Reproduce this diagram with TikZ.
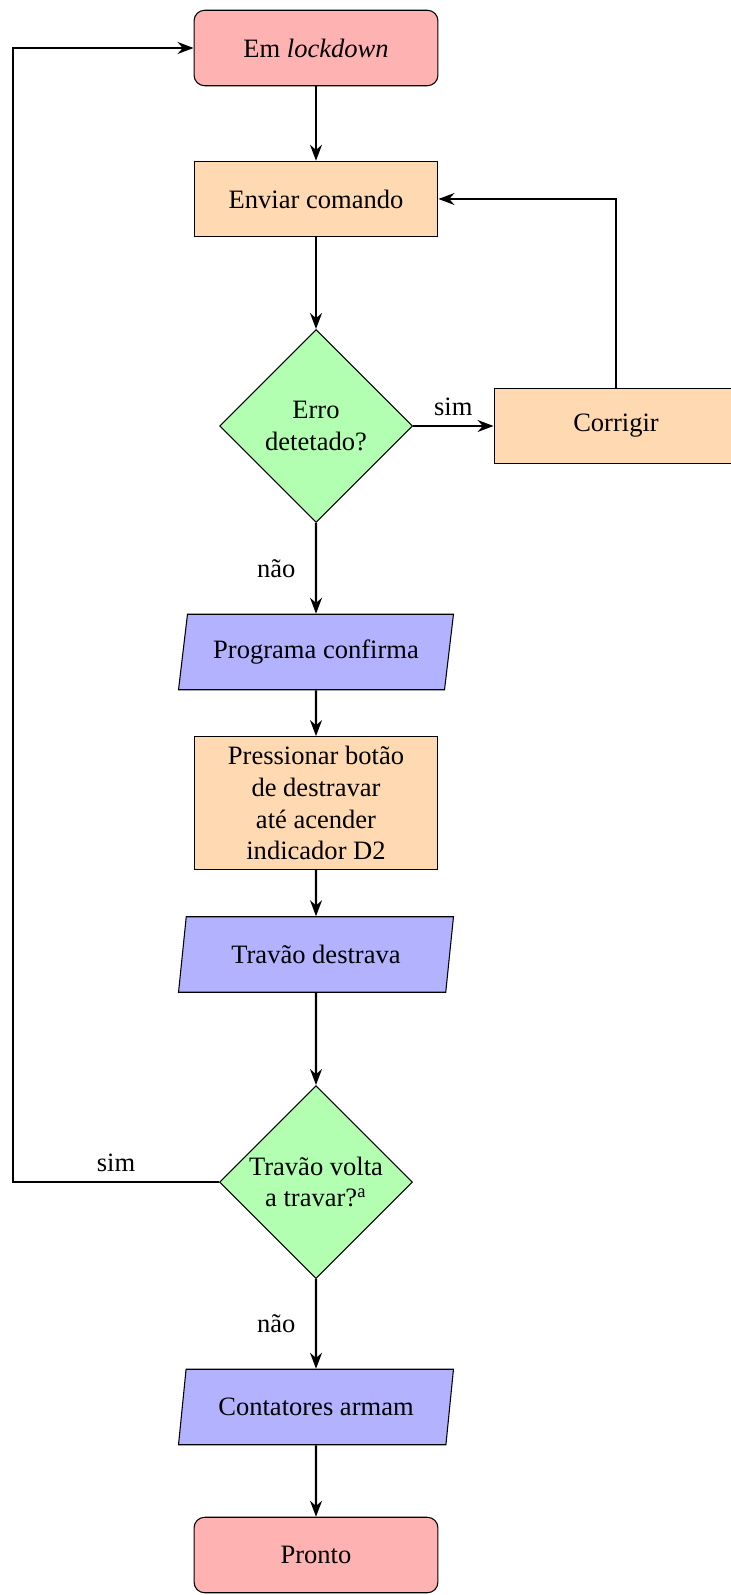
\documentclass[tikz,border=0pt]{standalone}
\usepackage{fontspec}
\setmainfont{Liberation Serif}
\usetikzlibrary{shapes.geometric,arrows.meta}
\tikzset{
  base/.style={draw, line width=0.4pt, align=center, font=\normalsize},
  term/.style={base, rounded corners=4pt, fill=red!30, minimum width=91.9pt, minimum height=28.45pt},
  proc/.style={base, rectangle, fill=orange!30, minimum width=91.9pt, minimum height=28.45pt},
  io/.style={base, trapezium, trapezium left angle=78, trapezium right angle=102, trapezium stretches body, fill=blue!30, minimum width=103.6pt, minimum height=28.45pt},
  dec/.style={base, diamond, aspect=1, inner sep=0pt, fill=green!30, minimum width=72.7pt, minimum height=72.7pt},
  arr/.style={-{Stealth[length=6pt,width=4.5pt]}, line width=0.8pt},
  lbl/.style={font=\normalsize}
}
\begin{document}
\begin{tikzpicture}[x=0.3768pt, y=-0.3768pt]
\useasboundingbox (0,0) rectangle (731,1595);
\node[term] (start) at (316,48) {Em \textit{lockdown}};
\node[proc] (env) at (316,199) {Enviar comando};
\node[dec] (d1) at (316,426) {Erro\\detetado?};
\node[proc] (corr) at (616,426) {Corrigir};
\node[io] (prog) at (316,652) {Programa confirma};
\node[proc, inner sep=3.5pt] (press) at (316,803) {Pressionar botão\\de destravar\\até acender\\indicador D2};
\node[io] (trav) at (316,954.5) {Travão destrava};
\node[dec] (d2) at (316,1182) {Travão volta\\a travar?\textsuperscript{a}};
\node[io] (cont) at (316,1407) {Contatores armam};
\node[term] (pronto) at (316,1555) {Pronto};
\coordinate (lp) at (13,1182);

\draw[arr] (start) -- (env);
\draw[arr] (env) -- (d1);
\draw[arr] (d1) -- node[lbl, above] {sim} (corr);
\draw[arr] (corr.north) |- (env.east);
\draw[arr] (d1) -- node[lbl, left, xshift=-4pt] {não} (prog);
\draw[arr] (prog) -- (press);
\draw[arr] (press) -- (trav);
\draw[arr] (trav) -- (d2);
\draw[arr] (d2.west) -- node[lbl, above] {sim} (lp) |- (start.west);
\draw[arr] (d2) -- node[lbl, left, xshift=-4pt] {não} (cont);
\draw[arr] (cont) -- (pronto);
\end{tikzpicture}
\end{document}
